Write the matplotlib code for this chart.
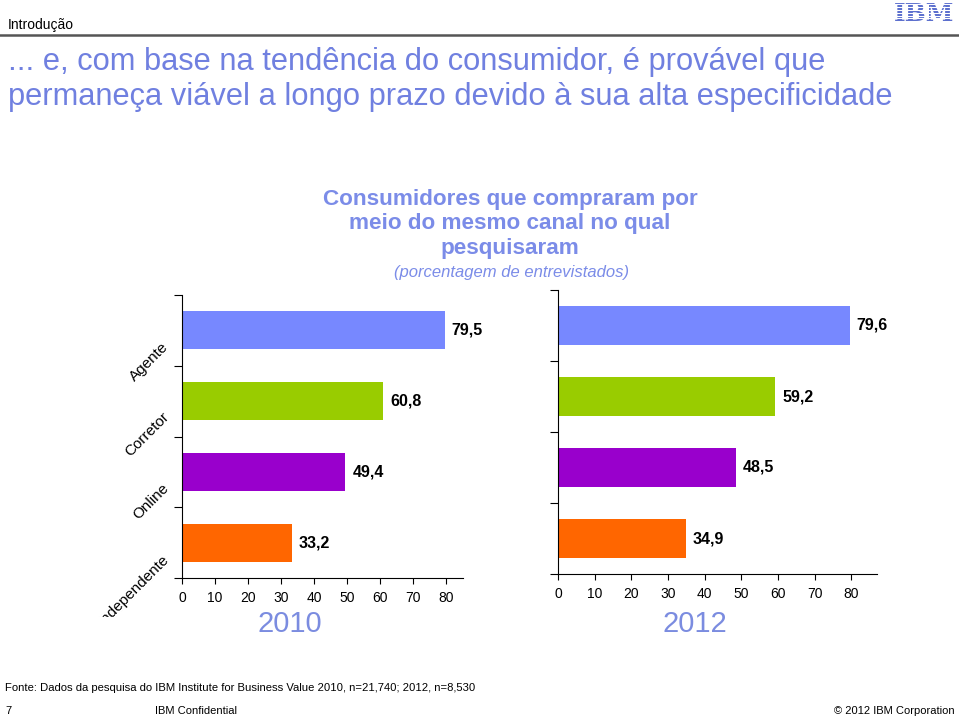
import matplotlib.pyplot as plt
import matplotlib.transforms as mtransforms
import numpy as np

plt.rcParams['font.family'] = ['Liberation Sans', 'DejaVu Sans']

canais = ['Agente', 'Corretor', 'Online', 'Independente']
valores_2010 = [79.5, 60.8, 49.4, 33.2]
valores_2012 = [79.6, 59.2, 48.5, 34.9]
cores = ['#7788ff', '#99cc00', '#9900cc', '#ff6600']
ticks_x = [0, 10, 20, 30, 40, 50, 60, 70, 80]

azul_texto = '#7080e0'

W, H = 959, 719
fig = plt.figure(figsize=(W / 100, H / 100), dpi=100)

# cabecalho
fig.text(8 / W, 1 - 25 / H, 'Introdução', fontsize=10, va='center', ha='left')
fig.add_artist(plt.Line2D([0, 1], [1 - 35 / H, 1 - 35 / H], color='#555555', lw=1.8))
fig.text(954 / W, 1 - 14 / H, 'IBM', fontsize=18, fontweight='bold', color='#5468cc',
         ha='right', va='center', family='DejaVu Serif')
for k in range(9):
    yy = 1 - (1.5 + k * 2.8) / H
    fig.add_artist(plt.Line2D([885 / W, 958 / W], [yy, yy], color='white', lw=0.8, zorder=10))

fig.text(8 / W, 1 - 62 / H, '... e, com base na tendência do consumidor, é provável que',
         fontsize=22.2, color=azul_texto, va='center', ha='left')
fig.text(8 / W, 1 - 97 / H, 'permaneça viável a longo prazo devido à sua alta especificidade',
         fontsize=22.2, color=azul_texto, va='center', ha='left')

# titulo do grafico
fig.text(510 / W, 1 - 224 / H, 'Consumidores que compraram por\nmeio do mesmo canal no qual\npesquisaram',
         fontsize=16.2, fontweight='bold', color='#7b8ce8', ha='center', va='center', linespacing=1.2)
fig.text(512 / W, 1 - 273 / H, '(porcentagem de entrevistados)', fontsize=12, style='italic',
         color='#7b8ce8', ha='center', va='center')

pos = np.arange(len(canais))[::-1] + 0.5


def painel(rect, valores, xmax, ano, x_ano, com_rotulos):
    ax = fig.add_axes(rect)
    ax.barh(pos, valores, height=0.54, color=cores)
    ax.set_xlim(0, xmax)
    ax.set_ylim(0, 4)
    for s in ['top', 'right']:
        ax.spines[s].set_visible(False)
    ax.set_xticks(ticks_x)
    ax.tick_params(axis='x', labelsize=10, length=4, direction='out', pad=5)
    ax.set_yticks([0, 1, 2, 3, 4])
    ax.set_yticklabels([])
    ax.tick_params(axis='y', which='major', length=6, direction='out')
    if com_rotulos:
        ax.set_yticks(pos, minor=True)
        ax.set_yticklabels(canais, minor=True, rotation=45, ha='right', va='center',
                           rotation_mode='anchor', fontsize=11)
        ax.tick_params(axis='y', which='minor', length=0, pad=11)
        desl = mtransforms.ScaledTranslation(0, -14 / 100, fig.dpi_scale_trans)
        corte = mtransforms.Bbox.from_extents(0, H - 617, W, H)
        for lab in ax.get_yticklabels(minor=True):
            lab.set_transform(lab.get_transform() + desl)
            lab.set_clip_box(corte)
            lab.set_clip_on(True)
    for y, v in zip(pos, valores):
        ax.annotate(f'{v:.1f}'.replace('.', ','), (v, y), xytext=(5, 0), textcoords='offset points',
                    ha='left', va='center', fontsize=11.5, fontweight='bold')
    ax.text(x_ano, 1 - 624 / H, ano, transform=ax.get_xaxis_transform() if False else
            mtransforms.blended_transform_factory(ax.transData, fig.transFigure),
            ha='center', va='center', fontsize=21, color='#7b8ce0')
    return ax


painel([182 / W, 1 - 578 / H, 281 / W, 283 / H], valores_2010, 85, '2010', 32.5, True)
painel([558 / W, 1 - 574 / H, 319 / W, 284 / H], valores_2012, 87, '2012', 37.4, False)

# rodape
fig.text(5 / W, 1 - 688 / H, 'Fonte: Dados da pesquisa do IBM Institute for Business Value 2010, n=21,740; 2012, n=8,530',
         fontsize=8.1, ha='left', va='center')
fig.text(5 / W, 1 - 711 / H, '7', fontsize=8, ha='left', va='center')
fig.text(155 / W, 1 - 711 / H, 'IBM Confidential', fontsize=8, ha='left', va='center')
fig.text(955 / W, 1 - 711 / H, '© 2012 IBM Corporation', fontsize=8, ha='right', va='center')

fig.savefig('out.png', dpi=100)
